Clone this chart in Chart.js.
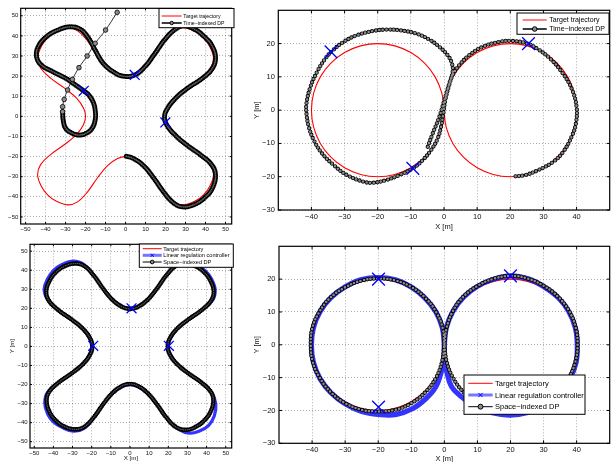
<!DOCTYPE html>
<html>
<head>
<meta charset="utf-8">
<script src="https://cdn.jsdelivr.net/npm/chart.js@4.4.1/dist/chart.umd.min.js"></script>
<style>
  html, body { margin: 0; padding: 0; background: #fff; overflow: hidden; width: 612px; height: 462px; }
  canvas { position: absolute; }
</style>
</head>
<body>
<canvas id="tl" width="240" height="236" style="left:0;top:0"></canvas>
<canvas id="tr" width="380" height="236" style="left:240px;top:0"></canvas>
<canvas id="bl" width="240" height="226" style="left:0;top:236px"></canvas>
<canvas id="br" width="380" height="226" style="left:240px;top:236px"></canvas>
<script>
// Tick labels
const cloverTicks = [-50, -40, -30, -20, -10, 0, 10, 20, 30, 40, 50];
const eightXTicks = [-40, -30, -20, -10, 0, 10, 20, 30, 40];
const eightYTicks = [-30, -20, -10, 0, 10, 20];

// Legend labels
const topLabels = ['Target trajectory', 'Time\u2212indexed DP'];
const bottomLabels = ['Target trajectory', 'Linear regulation controller', 'Space\u2212indexed DP'];

// Clover target trajectory (left plots), [x, y]
const cloverTarget = [
  [0,20],[4,21],[9,24.5],[14,30.5],[19,37.5],[24,42.5],[29,44],[35,42],[39,39],[42,35],[44,29],[42.5,24],[37.5,19],[30.5,14],[24.5,9],[21,4],[20,0],
  [21,-4],[24.5,-9],[30.5,-14],[37.5,-19],[42.5,-24],[44,-29],[42,-35],[39,-39],[35,-42],[29,-44],[24,-42.5],[19,-37.5],[14,-30.5],[9,-24.5],[4,-21],[0,-20],
  [-4,-21],[-9,-24.5],[-14,-30.5],[-19,-37.5],[-24,-42.5],[-29,-44],[-35,-42],[-39,-39],[-42,-35],[-44,-29],[-42.5,-24],[-37.5,-19],[-30.5,-14],[-24.5,-9],[-21,-4],[-20,0],
  [-21,4],[-24.5,9],[-30.5,14],[-37.5,19],[-42.5,24],[-44,29],[-42,35],[-39,39],[-35,42],[-29,44],[-24,42.5],[-19,37.5],[-14,30.5],[-9,24.5],[-4,21],[0,20]
];

// Time-indexed DP, top left: approach leg and the tracked part
const tlApproach = [
  [-4.2,51.7],[-10,42.9],[-15.2,36.3],[-19.2,30],[-23.3,24.2],[-26.6,18.4],[-29,13.1],[-30.7,8.4],[-31.5,4.8],[-31.5,2.3]
];
const tlDP = [
  [-31.5,2.3],[-31.2,-1.8],[-29.9,-6],[-26.6,-8.4],[-23.3,-9.3],[-19.7,-8.4],[-16.8,-6],[-15.2,-1.8],[-15.2,3.1],[-16.3,7.3],[-18.4,10.6],
  [-20.9,12.7],[-25,15.6],[-29.9,18.9],[-36.4,22.2],[-42.1,25.5],[-44.5,29.6],[-43.7,34.6],[-39.6,39.6],[-33.9,42.9],[-27.7,44.5],
  [-22.5,43.2],[-18.4,38.7],[-15.2,32.9],[-11.1,26.3],[-6.2,22.2],[-1.3,20],[4.4,20.5],[9.5,24.5],[14.5,31],[19.5,38],[24.5,43],
  [29,45],[35,43],[39.5,39.5],[43,35.5],[45,29.5],[43.5,24],[38.5,19],[31,14],[25,9],[21,4],[19.5,0],[20.5,-4],[24.8,-9.3],
  [31,-14.5],[38,-19.5],[43,-24],[45,-29],[43.5,-35.5],[40,-40],[35,-43.5],[29,-45],[24,-43],[19,-37.5],[14,-30.5],[9,-24.5],[4,-21],[0,-19.7]
];
const tlWaypoints = [[-20.9,12.7],[4.6,20.6],[19.9,-3]];

// Figure-eight target trajectory (right plots)
const eightTarget = [
  [0,0],[-0.68,5.18],[-2.68,10],[-5.86,14.14],[-10,17.32],[-14.82,19.32],[-20,20],[-25.18,19.32],[-30,17.32],[-34.14,14.14],[-37.32,10],[-39.32,5.18],[-40,0],
  [-39.32,-5.18],[-37.32,-10],[-34.14,-14.14],[-30,-17.32],[-25.18,-19.32],[-20,-20],[-14.82,-19.32],[-10,-17.32],[-5.86,-14.14],[-2.68,-10],[-0.68,-5.18],[0,0],
  [0.68,5.18],[2.68,10],[5.86,14.14],[10,17.32],[14.82,19.32],[20,20],[25.18,19.32],[30,17.32],[34.14,14.14],[37.32,10],[39.32,5.18],[40,0],
  [39.32,-5.18],[37.32,-10],[34.14,-14.14],[30,-17.32],[25.18,-19.32],[20,-20],[14.82,-19.32],[10,-17.32],[5.86,-14.14],[2.68,-10],[0.68,-5.18],[0,0]
];

// Time-indexed DP, top right
const trDP = [
  [-4.9,-11],[-3.4,-7],[-1.4,-2],[0.1,3],[1.6,8],[2.6,11.5],[2.4,14],[1.1,16.5],[-1.4,19],[-4.4,21.2],[-8.4,23],[-13.4,24],[-17.4,24.2],
  [-21.3,23.8],[-26.3,22.5],[-30.3,20.5],[-33.5,18],[-35.8,15.5],[-38.3,11.5],[-40.3,7],[-41.5,2],[-41.5,-1],[-40.8,-5],[-39.3,-9],
  [-36.8,-13],[-33.3,-16.5],[-29.3,-19.5],[-24.3,-21.5],[-21.3,-21.8],[-17.4,-21],[-13.4,-19.5],[-9.4,-17.5],[-6.4,-15],[-3.9,-12],
  [-1.9,-8.5],[-0.9,-5],[-0.2,-1],[0.4,3],[1.4,7],[2.6,10.5],[4.6,13.5],[7.6,16.5],[11.6,19],[16.6,20.5],[20.5,20.8],[25.1,20],
  [28.5,18.2],[32,15.5],[35.5,11.5],[38.5,6.5],[40,1],[39.8,-4],[38.5,-8],[36,-12.5],[33,-15.5],[28.5,-18],[24.5,-19.5],[20.5,-20]
];
const trWaypoints = [[-34.1,17.5],[-9.4,-17.5],[25.5,20]];

// Bottom left: linear regulation controller and space-indexed DP
const blLinear = [
  [0,20],[4,21],[9,24.5],[14,30.5],[19,37.5],[24,42.7],[29,44.5],[35,42.5],[39.5,39.5],[42.5,35.5],[44.5,29.5],[43,24],[37.5,19],[30.5,14],[24.5,9],[21,4],[20,0],
  [21,-4],[24.5,-9],[30.5,-14],[37.5,-19],[42.5,-24],[44.8,-30],[44,-36.5],[41,-41.5],[36,-44.5],[31,-45.5],[25.5,-43.5],[19.5,-38],[14,-30.5],[9,-24.5],[4,-21],[0,-20],
  [-4,-21],[-9,-24.5],[-14,-30.5],[-19,-37.5],[-24,-43],[-29.5,-44.5],[-35.5,-42.5],[-40,-39.5],[-43,-35.5],[-44.5,-29.5],[-43,-24],[-37.5,-19],[-30.5,-14],[-24.5,-9],[-21,-4],[-20,0],
  [-21,4],[-24.5,9],[-30.5,14],[-37.5,19],[-43,24.5],[-44.8,30],[-43,35.5],[-40,39.8],[-35.5,43],[-29.5,44.8],[-24,43],[-19,37.5],[-14,30.5],[-9,24.5],[-4,21],[0,20]
];
const blDP = [
  [0,19.5],[4,20.7],[9,24.3],[14,30.3],[19,37.3],[24,42.3],[29,43.7],[35,41.7],[38.8,38.8],[41.7,35],[43.7,29],[42.3,24],[37.3,19],[30.3,14],[24.3,9],[20.7,4],[19.7,0],
  [20.7,-4],[24.3,-9],[30.3,-14],[37.3,-19],[42.3,-24],[43.5,-29],[41.8,-34.8],[38.8,-38.8],[35,-41.8],[29.5,-43.8],[24,-42.3],[19,-37.3],[14,-30.3],[9,-24.3],[4,-20.7],[0,-19.7],
  [-4,-20.7],[-9,-24.3],[-14,-30.3],[-19,-37.3],[-24,-42.3],[-29,-43.5],[-34.8,-41.8],[-38.8,-38.8],[-41.8,-34.8],[-43.5,-29],[-42.3,-24],[-37.3,-19],[-30.3,-14],[-24.3,-9],[-20.7,-4],[-19.7,0],
  [-20.7,4],[-24.3,9],[-30.3,14],[-37.3,19],[-42.3,24],[-43.7,29],[-41.8,34.8],[-38.8,38.8],[-34.8,41.8],[-29,43.5],[-24,42.3],[-19,37.3],[-14,30.3],[-9,24.3],[-4,20.7],[0,19.5]
];
const blWaypoints = [[0.8,20],[-19.2,0.3],[20.3,0.3]];

// Bottom right: linear regulation controller and space-indexed DP
const brLinear = [
  [0,0],[-0.6,5.2],[-2.6,10.1],[-5.9,14.3],[-10,17.6],[-14.8,19.8],[-20,20.5],[-25.3,19.8],[-30.2,17.5],[-34.4,14.3],[-37.6,10.1],[-39.6,5.2],[-40.2,0],
  [-39.6,-5.3],[-37.6,-10.3],[-34.3,-14.6],[-30,-18],[-25,-20.3],[-19,-21.3],[-14.5,-21.2],[-9.7,-19.5],[-5.7,-16.5],[-2.7,-13],[-1,-8.5],[-0.2,-4],[0,0],
  [0.6,5.2],[2.6,10.2],[5.8,14.5],[10,17.8],[14.9,20],[20,21],[25.3,20.1],[30.2,17.6],[34.4,14.4],[37.6,10.2],[39.6,5.2],[40.2,0],
  [39.8,-5.5],[37.8,-10.6],[34.5,-15],[30.2,-18.4],[25.2,-20.6],[19.8,-21.4],[14.5,-20.7],[9.5,-18.8],[4.8,-15.5],[2.2,-12.8],[0.8,-8.5],[0.1,-4],[0,0]
];
const brDP = [
  [0,0],[-0.5,5],[-2.5,10],[-5.8,14.3],[-10,17.6],[-14.8,19.6],[-20,20.2],[-25.2,19.5],[-30.2,17.4],[-34.5,14.3],[-37.8,10],[-39.9,5.2],[-40.4,0],
  [-39.8,-5.2],[-37.6,-10.2],[-34.3,-14.5],[-30,-17.8],[-25,-19.8],[-20,-20.3],[-14.8,-19.8],[-10,-17.8],[-5.8,-14.5],[-2.6,-10.2],[-0.7,-5.2],[0,0],
  [0.7,5.2],[2.6,10.3],[5.7,14.6],[10,17.9],[14.9,20.1],[20.2,21],[25.4,20.1],[30.3,17.8],[34.5,14.5],[37.7,10.3],[39.7,5.3],[40.3,0],
  [39.6,-5.3],[37.5,-10.2],[34.1,-14.3],[30,-17.5],[25.2,-19.5],[20,-20.2],[14.8,-19.6],[10,-17.6],[5.8,-14.4],[2.7,-10.2],[0.7,-5.2],[0,0]
];
const brWaypoints = [[-19.9,20],[-19.9,-19],[20,21]];


const FONT = '"Liberation Sans", Arial, Helvetica, sans-serif';
const RED = '#ff0000';
const BLUE = 'rgba(30,30,255,0.9)';
const GREY = '#8c8c8c';

const pts = list => list.map(p => ({x: p[0], y: p[1]}));
const fmt = v => (v < 0 ? '\u2212' + (-v) : String(v));

// Plain line through the points
function lineSet(data, color, width, order) {
  return {data: pts(data), showLine: true, borderColor: color, borderWidth: width,
    pointRadius: 0, tension: 0.4, fill: false, order: order};
}

// Dense circle markers: a round-capped dotted line, drawn twice (black ring, grey fill)
function beadSet(data, color, width, gap, order) {
  return {data: pts(data), showLine: true, borderColor: color, borderWidth: width,
    borderDash: [0, gap], borderCapStyle: 'round', borderJoinStyle: 'round',
    pointRadius: 0, tension: 0.4, fill: false, order: order};
}

// Blue crosses at the waypoints
function crossSet(data, r, order) {
  return {data: pts(data), showLine: false, pointStyle: 'crossRot', pointRadius: r,
    pointBorderColor: '#0000ff', pointBorderWidth: 1.3, order: order};
}

// Legend samples
const samples = {
  target: {line: RED, width: 1},
  timeDP: {line: '#3c3c3c', width: 2, marker: 'circle'},
  linear: {line: 'rgba(60,60,255,0.7)', width: 3, marker: 'cross'},
  spaceDP: {line: '#000', width: 1, marker: 'circle'}
};

function drawLegend(ctx, lg) {
  const [x0, y0, x1, y1] = lg.box;
  ctx.fillStyle = '#fff';
  ctx.fillRect(x0, y0, x1 - x0, y1 - y0);
  ctx.strokeStyle = '#000';
  ctx.lineWidth = 1;
  ctx.setLineDash([]);
  ctx.strokeRect(x0, y0, x1 - x0, y1 - y0);
  ctx.font = lg.fontSize + 'px ' + FONT;
  ctx.textBaseline = 'middle';
  ctx.textAlign = 'left';
  lg.labels.forEach((label, i) => {
    const yy = lg.rows[i];
    const s = samples[lg.styles[i]];
    ctx.strokeStyle = s.line;
    ctx.lineWidth = s.width;
    ctx.beginPath();
    ctx.moveTo(lg.line[0], yy);
    ctx.lineTo(lg.line[1], yy);
    ctx.stroke();
    const mx = (lg.line[0] + lg.line[1]) / 2;
    if (s.marker === 'circle') {
      ctx.beginPath();
      ctx.arc(mx, yy, lg.fontSize * 0.33, 0, Math.PI * 2);
      ctx.fillStyle = GREY;
      ctx.fill();
      ctx.strokeStyle = '#000';
      ctx.lineWidth = 1;
      ctx.stroke();
    } else if (s.marker === 'cross') {
      const d = lg.fontSize * 0.28;
      ctx.strokeStyle = '#0000ff';
      ctx.lineWidth = 1;
      ctx.beginPath();
      ctx.moveTo(mx - d, yy - d); ctx.lineTo(mx + d, yy + d);
      ctx.moveTo(mx - d, yy + d); ctx.lineTo(mx + d, yy - d);
      ctx.stroke();
    }
    ctx.fillStyle = '#000';
    ctx.fillText(label, lg.textX, yy + 0.5);
  });
}

// White plot area, boxed frame with inward ticks, legend on top
const matlabAxes = {
  id: 'matlabAxes',
  beforeDraw(chart) {
    const a = chart.chartArea;
    chart.ctx.save();
    chart.ctx.fillStyle = '#fff';
    chart.ctx.fillRect(a.left, a.top, a.right - a.left, a.bottom - a.top);
    chart.ctx.restore();
  },
  afterDraw(chart, args, opts) {
    const {ctx, chartArea: a, scales: {x, y}} = chart;
    const L = opts.tickLen;
    ctx.save();
    ctx.strokeStyle = '#000';
    ctx.lineWidth = 1;
    ctx.beginPath();
    x.ticks.forEach(t => {
      const px = x.getPixelForValue(t.value);
      ctx.moveTo(px, a.bottom); ctx.lineTo(px, a.bottom - L);
      ctx.moveTo(px, a.top); ctx.lineTo(px, a.top + L);
    });
    y.ticks.forEach(t => {
      const py = y.getPixelForValue(t.value);
      ctx.moveTo(a.left, py); ctx.lineTo(a.left + L, py);
      ctx.moveTo(a.right, py); ctx.lineTo(a.right - L, py);
    });
    ctx.stroke();
    ctx.lineWidth = 1.2;
    ctx.strokeRect(a.left, a.top, a.right - a.left, a.bottom - a.top);
    if (opts.legend) drawLegend(ctx, opts.legend);
    ctx.restore();
  }
};

function scales(o) {
  const tickFont = {family: FONT, size: o.tickSize};
  const titleFont = {family: FONT, size: o.titleSize};
  return {
    x: {
      type: 'linear', min: o.x[0], max: o.x[1],
      afterBuildTicks: s => { s.ticks = o.xTicks.map(v => ({value: v})); },
      afterFit: s => { s.height = o.xH; },
      grid: {color: 'rgba(0,0,0,0.32)', lineWidth: 1, drawTicks: false},
      border: {display: false, dash: [1, 2]},
      ticks: {padding: o.xPad, font: tickFont, color: '#111', callback: fmt, maxRotation: 0, autoSkip: false},
      title: {display: !!o.titles, text: 'X [m]', font: titleFont, color: '#111', padding: {top: 0, bottom: o.xTitlePad || 0}}
    },
    y: {
      type: 'linear', min: o.y[0], max: o.y[1],
      afterBuildTicks: s => { s.ticks = o.yTicks.map(v => ({value: v})); },
      afterFit: s => { s.width = o.yW; },
      grid: {color: 'rgba(0,0,0,0.32)', lineWidth: 1, drawTicks: false},
      border: {display: false, dash: [1, 2]},
      ticks: {padding: o.yPad, font: tickFont, color: '#111', callback: fmt, autoSkip: false},
      title: {display: !!o.titles, text: 'Y [m]', font: titleFont, color: '#111', padding: {top: o.yTitlePad || 0, bottom: 0}}
    }
  };
}

function makeChart(id, datasets, o) {
  return new Chart(document.getElementById(id), {
    type: 'scatter',
    data: {datasets: datasets},
    options: {
      responsive: false,
      animation: false,
      devicePixelRatio: 1,
      events: [],
      layout: {padding: {left: 0, top: o.padTop, right: o.padRight, bottom: 0}},
      scales: scales(o),
      plugins: {
        legend: {display: false},
        tooltip: {enabled: false},
        matlabAxes: {tickLen: o.tickLen, legend: o.legend}
      }
    },
    plugins: [matlabAxes]
  });
}

// Top left: clover, time-indexed DP
makeChart('tl', [
  crossSet(tlWaypoints, 7, 0),
  Object.assign(lineSet(tlApproach, '#000', 0.8, 1), {pointRadius: 2.3, pointBackgroundColor: GREY, pointBorderColor: '#000', pointBorderWidth: 0.8}),
  beadSet(tlDP, '#666', 1.7, 1.8, 2),
  beadSet(tlDP, '#000', 5, 1.8, 3),
  lineSet(cloverTarget, RED, 1.1, 4)
], {
  x: [-52.45, 53.1], y: [-53.5, 53.7], xTicks: cloverTicks, yTicks: cloverTicks,
  padTop: 8.3, padRight: 4, yW: 20.7, xH: 12, xPad: 1.4, yPad: 2.4, tickSize: 6, tickLen: 2,
  legend: {box: [159, 8.5, 234, 27.7], line: [161.7, 181.7], textX: 183.3, rows: [16, 23], fontSize: 5.2,
    labels: topLabels, styles: ['target', 'timeDP']}
});

// Top right: figure eight, time-indexed DP
makeChart('tr', [
  crossSet(trWaypoints, 9, 0),
  beadSet(trDP, GREY, 2.6, 3.6, 2),
  beadSet(trDP, '#000', 4.3, 3.6, 3),
  lineSet(eightTarget, RED, 1.1, 4)
], {
  x: [-50, 50], y: [-30, 30], xTicks: eightXTicks, yTicks: eightYTicks, titles: true,
  padTop: 10, padRight: 9, yW: 38.3, xH: 26, xPad: 2.2, yPad: 3.5, tickSize: 7.5, titleSize: 7.5,
  yTitlePad: 12.2, xTitlePad: 4.8, tickLen: 3,
  legend: {box: [277, 13, 369, 34.3], line: [282.7, 306.7], textX: 309.3, rows: [20, 29], fontSize: 7,
    labels: topLabels, styles: ['target', 'timeDP']}
});

// Bottom left: clover, linear controller vs space-indexed DP
makeChart('bl', [
  crossSet(blWaypoints, 7, 0),
  beadSet(blDP, '#555', 1.5, 1.8, 2),
  beadSet(blDP, '#000', 4.6, 1.8, 3),
  lineSet(blLinear, BLUE, 3.2, 4),
  lineSet(cloverTarget, RED, 1.1, 5)
], {
  x: [-52.2, 53.1], y: [-53.3, 53.6], xTicks: cloverTicks, yTicks: cloverTicks, titles: true,
  padTop: 5, padRight: 4.7, yW: 30, xH: 14, xPad: 1.7, yPad: 2.4, tickSize: 6, titleSize: 6.2,
  yTitlePad: 8.1, xTitlePad: 0, tickLen: 2,
  legend: {box: [139.3, 8, 233.3, 31.3], line: [142.7, 161.7], textX: 163.3, rows: [12.7, 19.3, 26], fontSize: 5.6,
    labels: bottomLabels, styles: ['target', 'linear', 'spaceDP']}
});

// Bottom right: figure eight, linear controller vs space-indexed DP
makeChart('br', [
  crossSet(brWaypoints, 9, 0),
  beadSet(brDP, GREY, 2.6, 3.4, 2),
  beadSet(brDP, '#000', 4.3, 3.4, 3),
  lineSet(brLinear, BLUE, 5.2, 4),
  lineSet(eightTarget, RED, 1.1, 5)
], {
  x: [-50, 50], y: [-30, 30], xTicks: eightXTicks, yTicks: eightYTicks, titles: true,
  padTop: 7.3, padRight: 8.5, yW: 39, xH: 18.7, xPad: 2.2, yPad: 3.5, tickSize: 7.5, titleSize: 7.5,
  yTitlePad: 12.2, xTitlePad: -1.5, tickLen: 3,
  legend: {box: [224, 139, 345, 178.3], line: [228.3, 252.7], textX: 255, rows: [147.3, 159, 170.7], fontSize: 7.5,
    labels: bottomLabels, styles: ['target', 'linear', 'spaceDP']}
});
</script>
</body>
</html>
